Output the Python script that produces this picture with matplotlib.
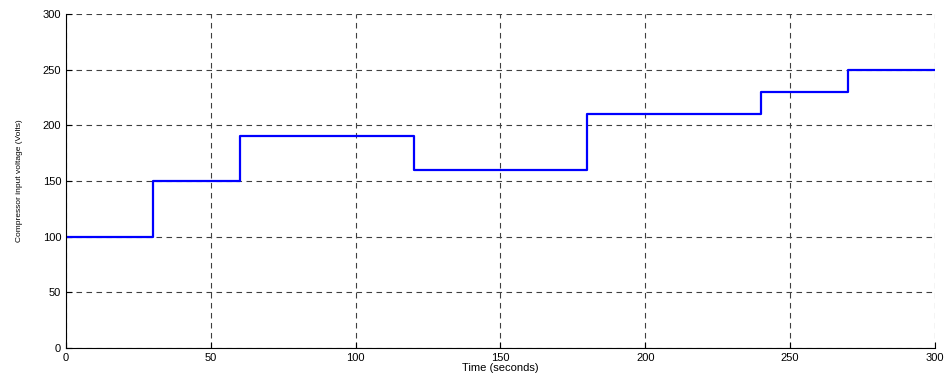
import matplotlib
matplotlib.use('Agg')
import matplotlib.pyplot as plt

# tempos de mudança (s) e tensão (V) em cada degrau
tempo = [0, 30, 60, 120, 180, 240, 270, 300]
tensao = [100, 150, 190, 160, 210, 230, 250, 250]

plt.rcParams['font.family'] = ['Liberation Sans', 'DejaVu Sans']

fig = plt.figure(figsize=(9.48, 3.76), dpi=100)
ax = fig.add_axes([0.0696, 0.0745, 0.9167, 0.8885])

ax.step(tempo, tensao, where='post', color='#0000ff', linewidth=1.6)

ax.set_xlim(0, 300)
ax.set_ylim(0, 300)
ax.set_xticks(range(0, 301, 50))
ax.set_yticks(range(0, 301, 50))
ax.grid(True, linestyle=(0, (5, 4)), color='0.25', linewidth=0.8)

ax.spines['top'].set_visible(False)
ax.spines['right'].set_visible(False)
ax.tick_params(direction='in', labelsize=8, length=4)

ax.set_xlabel('Time (seconds)', fontsize=8, labelpad=0)
ax.set_ylabel('Compressor input voltage (Volts)', fontsize=6, labelpad=14)

fig.savefig('out.png', dpi=100)
